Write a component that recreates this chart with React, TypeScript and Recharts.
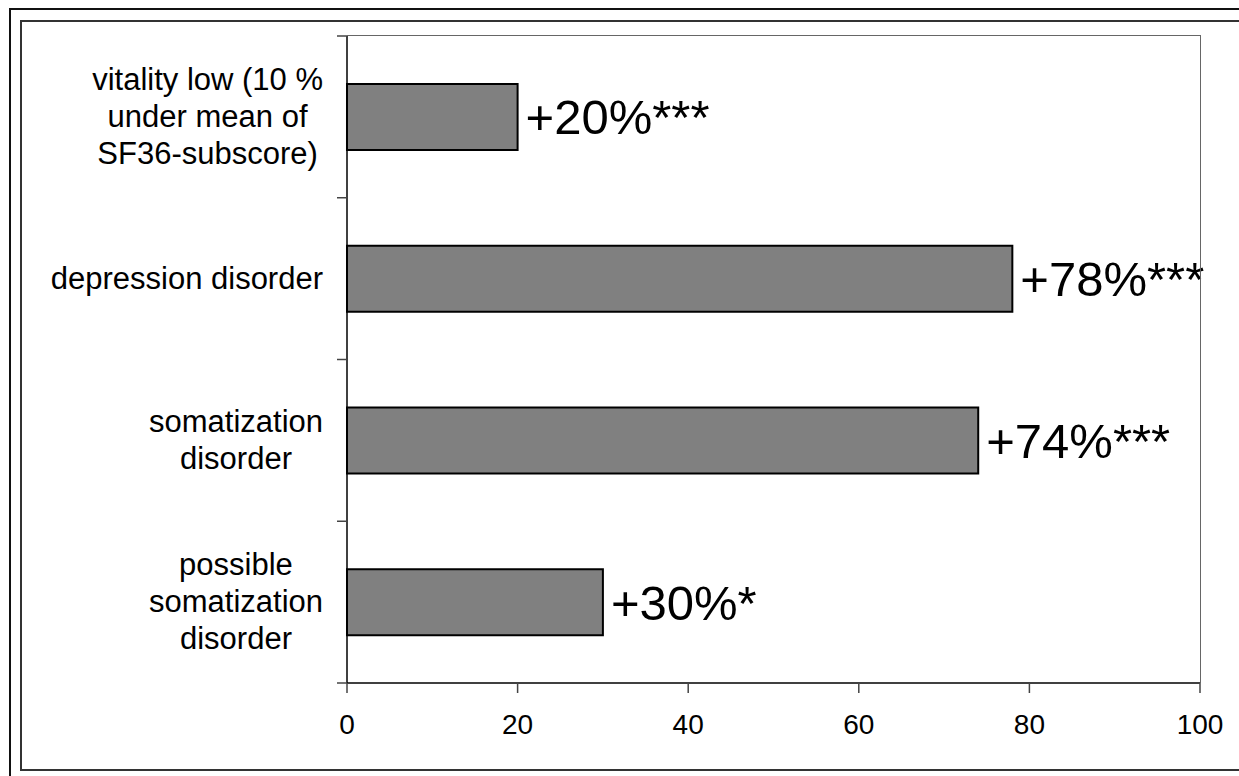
import { BarChart, Bar, XAxis, YAxis, LabelList } from 'recharts';

const categoryLines: string[][] = [
  ['vitality low (10 %', 'under mean of', 'SF36-subscore)'],
  ['depression disorder'],
  ['somatization', 'disorder'],
  ['possible', 'somatization', 'disorder'],
];
const values = [20, 78, 74, 30];
const valueLabels = ['+20%***', '+78%***', '+74%***', '+30%*'];
const xTicks = [0, 20, 40, 60, 80, 100];

const data = categoryLines.map((lines, i) => ({
  name: lines.join(' '),
  value: values[i],
  label: valueLabels[i],
}));

const FONT = "'Liberation Sans', Arial, sans-serif";
const W = 1239;
const H = 776;
const PLOT_LEFT = 347;
const PLOT_TOP = 36;
const PLOT_RIGHT = 1200;
const PLOT_BOTTOM = 683;
const CAT_FONT = 31;
const CAT_LINE = 37;
const LABEL_RIGHT = 323;

let ctx: CanvasRenderingContext2D | null = null;
function textWidth(s: string, size: number) {
  if (!ctx) ctx = document.createElement('canvas').getContext('2d');
  if (!ctx) return s.length * size * 0.5;
  ctx.font = `${size}px ${FONT}`;
  return ctx.measureText(s).width;
}

function CategoryTick(props: any) {
  const { y, index } = props;
  const band = (PLOT_BOTTOM - PLOT_TOP) / categoryLines.length;
  const lines = categoryLines[index] || [];
  const blockW = Math.max(...lines.map((l) => textWidth(l, CAT_FONT)));
  const cx = LABEL_RIGHT - blockW / 2;
  const firstBase = y - ((lines.length - 1) * CAT_LINE) / 2 + CAT_FONT * 0.33;
  const top = y - band / 2;
  return (
    <g>
      <line x1={PLOT_LEFT - 10} x2={PLOT_LEFT} y1={top} y2={top} stroke="#444" strokeWidth={1.5} />
      {index === categoryLines.length - 1 && (
        <line x1={PLOT_LEFT - 10} x2={PLOT_LEFT} y1={top + band} y2={top + band} stroke="#444" strokeWidth={1.5} />
      )}
      {lines.map((l, i) => (
        <text
          key={i}
          x={cx}
          y={firstBase + i * CAT_LINE}
          textAnchor="middle"
          fontSize={CAT_FONT}
          fontFamily={FONT}
          fill="#000"
        >
          {l}
        </text>
      ))}
    </g>
  );
}

export default function App() {
  return (
    <div
      style={{
        position: 'absolute',
        left: 0,
        top: 0,
        width: W,
        height: H,
        overflow: 'hidden',
        background: '#fff',
        fontFamily: FONT,
      }}
    >
      {/* double frame around the figure */}
      <div
        style={{
          position: 'absolute',
          left: 9,
          top: 8,
          width: 1400,
          height: 900,
          border: '2px solid #111',
          boxSizing: 'border-box',
        }}
      />
      <div
        style={{
          position: 'absolute',
          left: 20,
          top: 20,
          width: 1400,
          height: 751,
          border: '2px solid #333',
          boxSizing: 'border-box',
        }}
      />
      <div style={{ position: 'absolute', left: 0, top: 0 }}>
        <BarChart
          width={W}
          height={H}
          data={data}
          layout="vertical"
          margin={{ top: PLOT_TOP, right: W - PLOT_RIGHT, bottom: 33, left: PLOT_LEFT - 320 }}
        >
          <XAxis
            type="number"
            domain={[0, 100]}
            ticks={xTicks}
            interval={0}
            height={H - PLOT_BOTTOM - 33}
            tickSize={10}
            tickMargin={21}
            axisLine={{ stroke: '#000', strokeWidth: 1.5 }}
            tickLine={{ stroke: '#444', strokeWidth: 1.5 }}
            tick={{ fontSize: 28, fill: '#000', fontFamily: FONT }}
          />
          <YAxis
            type="category"
            dataKey="name"
            width={320}
            interval={0}
            tickLine={false}
            tickSize={0}
            axisLine={{ stroke: '#000', strokeWidth: 1.5 }}
            tick={(p: any) => <CategoryTick {...p} />}
          />
          <Bar dataKey="value" fill="#808080" stroke="#000" strokeWidth={2} barSize={66} isAnimationActive={false}>
            <LabelList
              dataKey="label"
              position="right"
              offset={8}
              fontSize={49}
              fill="#000"
              fontFamily={FONT}
            />
          </Bar>
        </BarChart>
      </div>
      {/* plot area frame, top and right edges */}
      <div
        style={{
          position: 'absolute',
          left: PLOT_LEFT,
          top: PLOT_TOP - 1,
          width: PLOT_RIGHT - PLOT_LEFT,
          height: PLOT_BOTTOM - PLOT_TOP,
          borderTop: '1.5px solid #666',
          borderRight: '1.5px solid #666',
          pointerEvents: 'none',
        }}
      />
    </div>
  );
}
